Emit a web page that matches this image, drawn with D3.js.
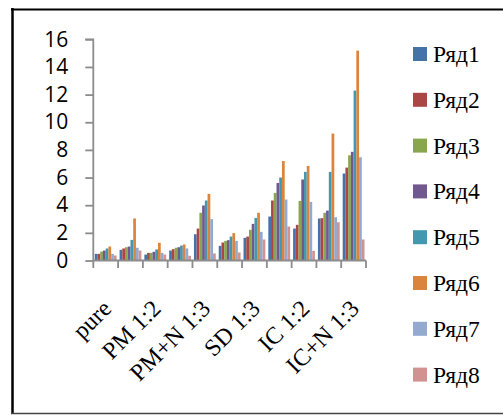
<!DOCTYPE html>
<html>
<head>
<meta charset="utf-8">
<script src="https://cdn.jsdelivr.net/npm/d3@7"></script>
<style>
  body { margin: 0; background: #fff; }
  svg { display: block; }
  .serif { font-family: "Liberation Serif", "Times New Roman", serif; }
</style>
</head>
<body>
<div id="chart"></div>
<script>
//Category labels (only every second one is shown on the axis)
var categories = ["pure", "c2", "PM 1:2", "c4", "PM+N 1:3", "c6", "SD 1:3", "c8", "IC 1:2", "c10", "IC+N 1:3"];
var shownLabels = ["pure", "PM 1:2", "PM+N 1:3", "SD 1:3", "IC 1:2", "IC+N 1:3"];
var seriesNames = ["Ряд1", "Ряд2", "Ряд3", "Ряд4", "Ряд5", "Ряд6", "Ряд7", "Ряд8"];
var yTicks = [0, 2, 4, 6, 8, 10, 12, 14, 16];

//Values per series, one per category
var ryad1 = [0.48, 0.77, 0.43, 0.72, 1.90, 1.06, 1.64, 3.18, 2.31, 3.04, 6.29];
var ryad2 = [0.48, 0.87, 0.55, 0.82, 2.31, 1.30, 1.73, 4.34, 2.58, 3.06, 6.72];
var ryad3 = [0.65, 0.96, 0.55, 0.92, 3.45, 1.42, 2.22, 4.89, 4.31, 3.45, 7.61];
var ryad4 = [0.72, 1.01, 0.63, 0.96, 3.98, 1.47, 2.65, 5.61, 5.86, 3.61, 7.86];
var ryad5 = [0.87, 1.49, 0.80, 1.08, 4.34, 1.73, 3.08, 6.00, 6.41, 6.41, 12.29];
var ryad6 = [1.01, 3.04, 1.28, 1.16, 4.82, 1.98, 3.45, 7.20, 6.84, 9.18, 15.18];
var ryad7 = [0.48, 0.92, 0.55, 0.87, 2.99, 1.42, 2.07, 4.41, 4.24, 3.13, 7.47];
var ryad8 = [0.36, 0.72, 0.43, 0.34, 0.51, 0.58, 1.52, 2.46, 0.70, 2.77, 1.52];

var seriesValues = [ryad1, ryad2, ryad3, ryad4, ryad5, ryad6, ryad7, ryad8];
var colors = ["#4572A7", "#AA4643", "#89A54E", "#71588F", "#4198AF", "#DB843D", "#93A9CF", "#D19392"];

var width = 503;
var height = 415;

var svg = d3.select("#chart")
  .append("svg")
  .attr("width", width)
  .attr("height", height);

//Outer frame
svg.append("line")
  .attr("x1", 12.5).attr("x2", 12.5).attr("y1", 8).attr("y2", 414)
  .attr("stroke", "#000").attr("stroke-width", 2.5);
svg.append("line")
  .attr("x1", 11).attr("x2", width).attr("y1", 9.5).attr("y2", 9.5)
  .attr("stroke", "#000").attr("stroke-width", 2);
svg.append("line")
  .attr("x1", 11).attr("x2", width).attr("y1", 413.5).attr("y2", 413.5)
  .attr("stroke", "#444").attr("stroke-width", 1.5);

//Scales
var xScale = d3.scaleBand()
  .domain(categories)
  .range([93.3, 366])
  .paddingInner(0.12)
  .paddingOuter(0.06);

var xSub = d3.scaleBand()
  .domain(d3.range(seriesNames.length))
  .range([0, xScale.bandwidth()]);

var yScale = d3.scaleLinear()
  .domain([0, 16])
  .range([260.5, 39.3]);

//Bars
var groups = svg.selectAll("g.series")
  .data(seriesValues)
  .enter()
  .append("g")
  .attr("class", "series")
  .attr("fill", function(d, i) { return colors[i]; });

groups.selectAll("rect")
  .data(function(d, i) {
    return d.map(function(v, j) { return { s: i, c: categories[j], v: v }; });
  })
  .enter()
  .append("rect")
  .attr("x", function(d) { return xScale(d.c) + xSub(d.s); })
  .attr("width", xSub.bandwidth())
  .attr("y", function(d) { return yScale(d.v); })
  .attr("height", function(d) { return yScale(0) - yScale(d.v); });

//Y axis
var yAxis = d3.axisLeft(yScale)
  .tickValues(yTicks)
  .tickSize(8)
  .tickPadding(17);

var yG = svg.append("g")
  .attr("transform", "translate(93.3,0)")
  .call(yAxis);
yG.selectAll("path, line").attr("stroke", "#8c8c8c").attr("stroke-width", 1.8);
yG.select(".domain").attr("d", "M-8,39.3H0V260.5");
yG.selectAll("text")
  .attr("font-family", "'Open Sans', sans-serif")
  .attr("font-size", 21)
  .attr("fill", "#000");

//X axis: ticks at category boundaries
var step = xScale.step();
var x0 = 93.3;
var xAxisG = svg.append("g");
xAxisG.append("line")
  .attr("x1", x0).attr("x2", x0 + step * categories.length)
  .attr("y1", 260.5).attr("y2", 260.5)
  .attr("stroke", "#8c8c8c").attr("stroke-width", 1.8);
xAxisG.selectAll("line.tick")
  .data(d3.range(categories.length + 1))
  .enter()
  .append("line")
  .attr("class", "tick")
  .attr("x1", function(d) { return x0 + d * step; })
  .attr("x2", function(d) { return x0 + d * step; })
  .attr("y1", 260.5).attr("y2", 268)
  .attr("stroke", "#8c8c8c").attr("stroke-width", 1.8);

xAxisG.selectAll("text")
  .data(shownLabels)
  .enter()
  .append("text")
  .attr("class", "serif")
  .attr("transform", function(d) {
    var cx = xScale(d) + xScale.bandwidth() / 2 + 7;
    return "translate(" + cx + ",310)rotate(-45)";
  })
  .attr("text-anchor", "end")
  .attr("font-size", 24)
  .attr("fill", "#000")
  .text(function(d) { return d; });

//Legend
var legend = svg.selectAll("g.legend")
  .data(seriesNames)
  .enter()
  .append("g")
  .attr("class", "legend")
  .attr("transform", function(d, i) { return "translate(413," + (54 + i * 45.8) + ")"; });

legend.append("rect")
  .attr("x", 0).attr("y", -7)
  .attr("width", 14).attr("height", 14)
  .attr("fill", function(d, i) { return colors[i]; });

legend.append("text")
  .attr("class", "serif")
  .attr("x", 20)
  .attr("y", 8)
  .attr("font-size", 23.5)
  .attr("fill", "#000")
  .text(function(d) { return d; });
</script>
</body>
</html>
